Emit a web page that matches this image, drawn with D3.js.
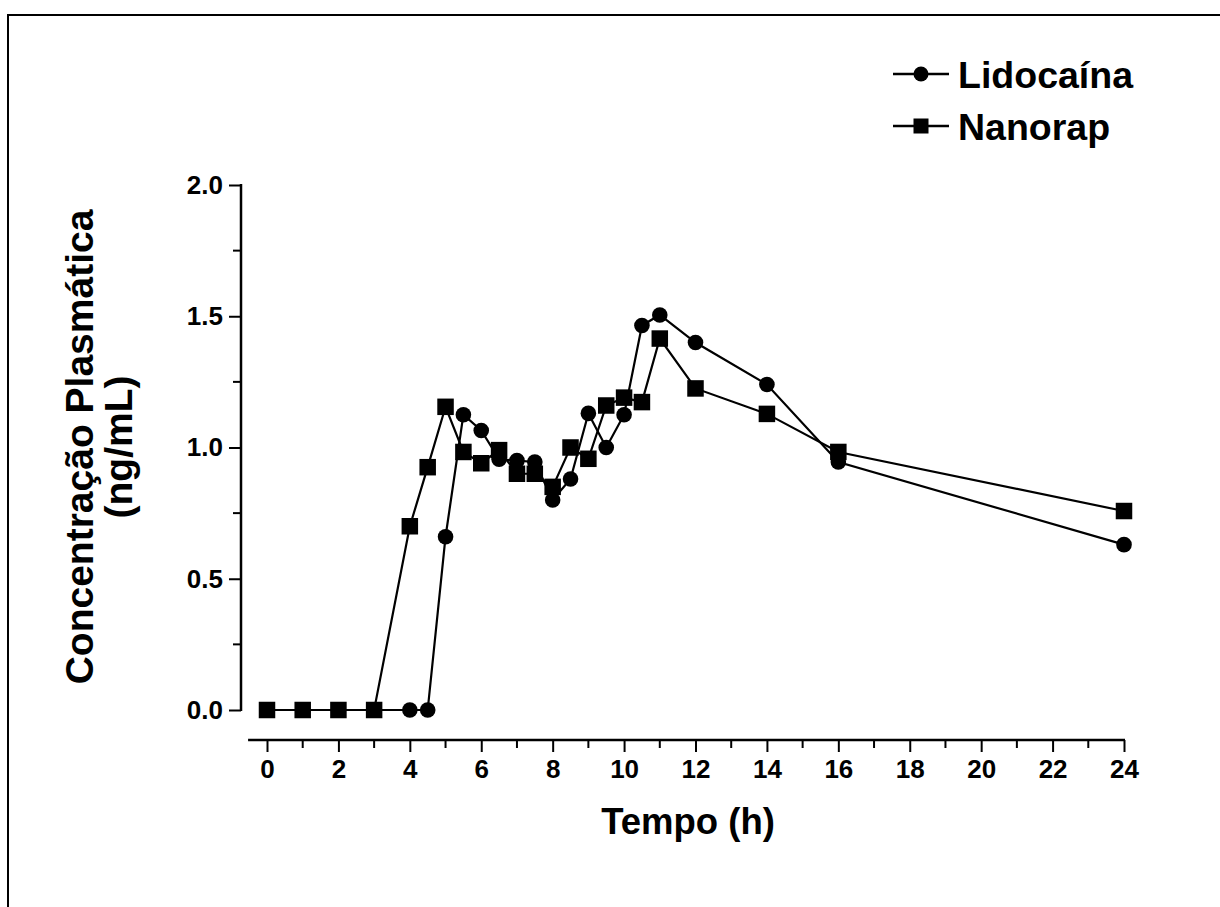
<!DOCTYPE html>
<html>
<head>
<meta charset="utf-8">
<script src="https://cdn.jsdelivr.net/npm/d3@7"></script>
<style>
  html, body { margin: 0; padding: 0; background: #fff; }
  text { font-family: "Liberation Sans", Arial, sans-serif; font-weight: bold; fill: #000; }
</style>
</head>
<body>
<svg id="chart" width="1220" height="907"></svg>
<script>
// ---- data ----
const seriesNames = ["Lidocaína", "Nanorap"];
const timeLido = [0, 1, 2, 3, 4, 4.5, 5, 5.5, 6, 6.5, 7, 7.5, 8, 8.5, 9, 9.5, 10, 10.5, 11, 12, 14, 16, 24];
const valLido  = [0, 0, 0, 0, 0, 0, 0.66, 1.125, 1.065, 0.955, 0.95, 0.945, 0.80, 0.88, 1.13, 1.00, 1.125, 1.465, 1.505, 1.40, 1.24, 0.945, 0.63];
const timeNano = [0, 1, 2, 3, 4, 4.5, 5, 5.5, 6, 6.5, 7, 7.5, 8, 8.5, 9, 9.5, 10, 10.5, 11, 12, 14, 16, 24];
const valNano  = [0, 0, 0, 0, 0.70, 0.925, 1.155, 0.983, 0.94, 0.99, 0.90, 0.90, 0.85, 1.00, 0.957, 1.16, 1.19, 1.173, 1.415, 1.225, 1.128, 0.983, 0.758];
const xTicks = [0, 2, 4, 6, 8, 10, 12, 14, 16, 18, 20, 22, 24];
const xMinorTicks = [1, 3, 5, 7, 9, 11, 13, 15, 17, 19, 21, 23];
const yTicks = [0, 0.5, 1.0, 1.5, 2.0];
const yMinorTicks = [0.25, 0.75, 1.25, 1.75];
const xTitle = "Tempo (h)";
const yTitle = ["Concentração Plasmática", "(ng/mL)"];

const svg = d3.select("#chart");

// outer frame
svg.append("rect").attr("x", 8).attr("y", 15).attr("width", 1240).attr("height", 920)
  .attr("fill", "none").attr("stroke", "#000").attr("stroke-width", 2);

const x = d3.scaleLinear().domain([0, 24]).range([267, 1124]);
const y = d3.scaleLinear().domain([0, 2]).range([710, 185]);

// ---- Y axis ----
const yAxisX = 241;
const gy = svg.append("g").attr("transform", `translate(${yAxisX},0)`);
gy.call(d3.axisLeft(y).tickValues(yTicks).tickFormat(d3.format(".1f")).tickSize(12).tickPadding(6))
  .call(g => g.select(".domain").remove());
gy.selectAll(".tick line").attr("stroke", "#000").attr("stroke-width", 2);
gy.selectAll(".tick text").style("font-size", "26px").style("font-family", "'Liberation Sans', Arial, sans-serif").style("font-weight", "bold").attr("fill", "#000");
gy.append("g").selectAll("line").data(yMinorTicks).join("line")
  .attr("x1", -8).attr("x2", 0).attr("y1", d => y(d)).attr("y2", d => y(d))
  .attr("stroke", "#000").attr("stroke-width", 2);
gy.append("line").attr("x1", 0).attr("x2", 0).attr("y1", y(2) - 1).attr("y2", y(0) + 1)
  .attr("stroke", "#000").attr("stroke-width", 2.5);

// ---- X axis ----
const xAxisY = 740;
const gx = svg.append("g").attr("transform", `translate(0,${xAxisY})`);
gx.call(d3.axisBottom(x).tickValues(xTicks).tickFormat(d3.format("d")).tickSize(12).tickPadding(8))
  .call(g => g.select(".domain").remove());
gx.selectAll(".tick line").attr("stroke", "#000").attr("stroke-width", 2);
gx.selectAll(".tick text").style("font-size", "26px").style("font-family", "'Liberation Sans', Arial, sans-serif").style("font-weight", "bold").attr("fill", "#000");
gx.append("g").selectAll("line").data(xMinorTicks).join("line")
  .attr("x1", d => x(d)).attr("x2", d => x(d)).attr("y1", 0).attr("y2", 8)
  .attr("stroke", "#000").attr("stroke-width", 2);
gx.append("line").attr("x1", x(-0.53)).attr("x2", x(24) + 1).attr("y1", 0).attr("y2", 0)
  .attr("stroke", "#000").attr("stroke-width", 2.5);

// ---- titles ----
svg.append("text").attr("x", 688).attr("y", 834).attr("text-anchor", "middle")
  .style("font-size", "36.5px").text(xTitle);
const yt = svg.append("text").attr("transform", `translate(0,447) rotate(-90)`).attr("text-anchor", "middle")
  .style("font-size", "39px");
yt.append("tspan").attr("x", 0).attr("y", 93).text(yTitle[0]);
yt.append("tspan").attr("x", 0).attr("y", 132).text(yTitle[1]);

// ---- series ----
const lido = timeLido.map((t, i) => ({ t, v: valLido[i] }));
const nano = timeNano.map((t, i) => ({ t, v: valNano[i] }));
const line = d3.line().x(d => x(d.t)).y(d => y(d.v));

svg.append("path").datum(lido).attr("d", line).attr("fill", "none").attr("stroke", "#000").attr("stroke-width", 2.2);
svg.append("g").selectAll("circle").data(lido).join("circle")
  .attr("cx", d => x(d.t)).attr("cy", d => y(d.v)).attr("r", 7.8).attr("fill", "#000");

svg.append("path").datum(nano).attr("d", line).attr("fill", "none").attr("stroke", "#000").attr("stroke-width", 2.2);
const sq = 16.5;
svg.append("g").selectAll("rect").data(nano).join("rect")
  .attr("x", d => x(d.t) - sq / 2).attr("y", d => y(d.v) - sq / 2)
  .attr("width", sq).attr("height", sq).attr("fill", "#000");

// ---- legend ----
const legend = svg.append("g");
const legY = [74, 126];
seriesNames.forEach((name, i) => {
  const g = legend.append("g").attr("transform", `translate(0,${legY[i]})`);
  g.append("line").attr("x1", 893).attr("x2", 949).attr("y1", 0).attr("y2", 0)
    .attr("stroke", "#000").attr("stroke-width", 2.5);
  if (i === 0) g.append("circle").attr("cx", 921).attr("cy", 0).attr("r", 7.5).attr("fill", "#000");
  else g.append("rect").attr("x", 921 - 7.5).attr("y", -7.5).attr("width", 15).attr("height", 15).attr("fill", "#000");
  g.append("text").attr("x", 958).attr("y", 0).attr("dy", "0.36em").style("font-size", "37.5px").text(name);
});
</script>
</body>
</html>
